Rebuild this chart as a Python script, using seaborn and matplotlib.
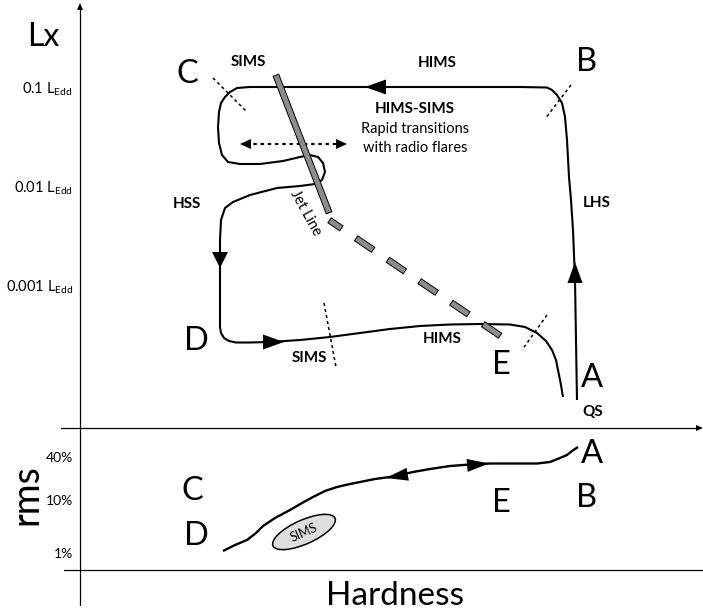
import matplotlib
matplotlib.use("Agg")
import matplotlib.pyplot as plt
import matplotlib.patheffects as pe
from matplotlib.patches import Ellipse
import seaborn as sns

sns.set_theme(style="white")
plt.rcParams["font.family"] = ["Lato", "DejaVu Sans"]
plt.rcParams["mathtext.default"] = "regular"
plt.rcParams["lines.scale_dashes"] = False

# ---------------- schematic data (diagram units) ----------------
# Hardness-intensity track: A -> B (LHS rise)
lhs_x = [577, 576, 575, 573, 571, 569, 567, 565, 562, 557, 552, 547]
lhs_y = [400, 340, 280, 230, 200, 177, 140, 117, 103, 95, 90, 87.5]
# B -> C (HIMS) and the HIMS-SIMS flaring loop
hims_x = [520, 450, 380, 320, 250, 237, 230, 225, 221, 219, 218, 219, 222, 228, 240,
          260, 283, 300, 310, 318, 323, 325, 322, 315, 300, 277, 250, 233, 225, 221, 220]
hims_y = [87, 87, 87, 87, 87, 88, 92, 97, 103, 112, 127, 143, 155, 162, 164,
          164, 161, 157, 155, 157, 163, 172, 180, 184, 186, 188, 195, 202, 208, 220, 240]
# HSS decay -> D -> E -> back to quiescence
decay_x = [220, 220, 221, 224, 229, 236, 250, 270, 300, 330, 360, 390, 420, 450, 480,
           510, 525, 537, 546, 552, 556, 558, 561, 563]
decay_y = [300, 327, 333, 338, 341, 342.5, 342.5, 342, 340, 337, 333, 329, 326, 324.5, 324,
           324.5, 327, 333, 341, 350, 360, 370, 385, 397]
# rms - hardness track (bottom panel)
rms_x = [223, 235, 247, 256, 263, 275, 290, 302, 313, 325, 337, 350, 360, 375, 390,
         400, 413, 430, 450, 470, 490, 510, 537, 550, 560, 567, 572, 578]
rms_y = [551, 545, 540, 533, 526, 518, 510, 503, 497, 491, 487, 484, 482, 479, 477,
         475, 472, 469, 466, 464.5, 463.5, 463.5, 463.5, 462, 458, 455, 451, 447]
# jet line
jet_solid_x = [277, 328]
jet_solid_y = [78, 210]
jet_dash_x = [332, 502]
jet_dash_y = [222, 337]
# state boundaries (dotted)
boundaries = {
    "C": ([213, 247], [78, 112]),
    "B": ([571, 545], [85, 119]),
    "D": ([324, 336], [303, 367]),
    "E": ([547, 522], [315, 350]),
}
flare_x = [247, 340]
flare_y = [144, 144]

ytick_labels = ["0.1 L$_{Edd}$", "0.01 L$_{Edd}$", "0.001 L$_{Edd}$"]
rms_tick_labels = ["40%", "10%", "1%"]

# ---------------- drawing ----------------
fig = plt.figure(figsize=(7.03, 6.11), dpi=100)
ax = fig.add_axes([0, 0, 1, 1])

K = "black"
PX = 72 / 100.0  # points per pixel


def line(x, y, **kw):
    kw.setdefault("color", K)
    sns.lineplot(x=x, y=y, sort=False, estimator=None, ax=ax, legend=False, **kw)


def head(tip, base, length, halfw, lw=0):
    ax.annotate("", xy=tip, xytext=base,
                arrowprops=dict(arrowstyle=f"-|>,head_length={length*PX},head_width={halfw*PX}",
                                mutation_scale=1, lw=lw, color=K, shrinkA=0, shrinkB=0))


# axes frame
line([80, 80], [8, 605], linewidth=0.9)
line([61, 698], [428, 428], linewidth=0.9)
line([64, 703], [570, 570], linewidth=0.9)
head((80, 3), (80, 10), 7, 3)
head((703, 428), (696, 428), 7, 3)

# main tracks
full_x = lhs_x + hims_x + decay_x
full_y = lhs_y + hims_y + decay_y
line(full_x, full_y, linewidth=1.5, solid_joinstyle="round", solid_capstyle="butt")
line(rms_x, rms_y, linewidth=1.7, solid_joinstyle="round", solid_capstyle="butt")

# arrowheads on tracks
head((575, 262), (575, 284), 21, 7.5)
head((365, 87), (386, 87), 21, 7.5)
head((220, 268), (220, 252), 16, 8)
head((284, 342), (262, 342), 21, 7.5)
head((386, 478), (409, 474), 22, 6.5)
head((489, 463.5), (466, 465.5), 22, 6.5)

# dotted boundaries
for bx, by in boundaries.values():
    line(bx, by, linewidth=1.1, linestyle=(0, (2.2, 2.2)))

# dotted double arrow
line(flare_x, flare_y, linewidth=1.6, linestyle=(0, (1.2, 4.0)), dash_capstyle="round")
head((240, 144), (250, 144), 11, 5)
head((347, 144), (337, 144), 11, 5)

# jet line
jet_fx = [pe.Stroke(linewidth=5.0, foreground="black"), pe.Normal()]
line(jet_solid_x, jet_solid_y, color="#8c8c8c", linewidth=3.6,
     solid_capstyle="projecting", path_effects=jet_fx)
line(jet_dash_x, jet_dash_y, color="#8c8c8c", linewidth=3.6,
     linestyle=(4.5, (10.5, 17.1)), dash_capstyle="projecting", path_effects=jet_fx)

# SIMS blob in rms panel
ax.add_patch(Ellipse((304, 532), 68, 24, angle=-24, facecolor="#dedede",
                     edgecolor=K, linewidth=1.1, zorder=3))

# ---------------- text ----------------
def txt(x, y, s, size, ha="center", weight="normal", **kw):
    ax.text(x, y, s, fontsize=size, ha=ha, va="baseline", weight=weight, color=K, **kw)


txt(27, 46, "Lx", 23, ha="left")

for s, yb in zip(ytick_labels, [94, 193, 292]):
    txt(73, yb, s, 10.5, ha="right")
for s, yb in zip(rms_tick_labels, [462, 505, 558]):
    txt(73, yb, s, 10, ha="right")

ax.text(37, 495, "rms", fontsize=27, rotation=90, rotation_mode="anchor",
        ha="center", va="baseline", color=K)
txt(395, 605, "Hardness", 24)

big = 23.5
for s, x, yb in [("C", 187, 83), ("B", 587, 71), ("D", 196, 350), ("E", 501, 374),
                 ("A", 592, 387), ("A", 592, 463), ("B", 587, 507), ("E", 501, 512),
                 ("C", 192, 500), ("D", 196, 545)]:
    txt(x, yb, s, big)

for s, x, yb in [("SIMS", 248, 66), ("HIMS", 437, 67), ("HIMS-SIMS", 415, 113),
                 ("LHS", 597, 207), ("HSS", 187, 208), ("SIMS", 309, 362),
                 ("HIMS", 442, 343), ("QS", 593, 416)]:
    txt(x, yb, s, 11, weight="bold")

txt(415, 133, "Rapid transitions", 10.5)
txt(415, 152, "with radio flares", 10.5)

ax.text(306, 213, "Jet Line", fontsize=10.5, rotation=-61, rotation_mode="anchor",
        ha="center", va="center", color=K)
ax.text(304, 533, "SIMS", fontsize=9, rotation=24, rotation_mode="anchor",
        ha="center", va="center", color=K, zorder=4)

ax.set_xlim(0, 703)
ax.set_ylim(611, 0)
ax.axis("off")
fig.savefig("out.png", dpi=100)
